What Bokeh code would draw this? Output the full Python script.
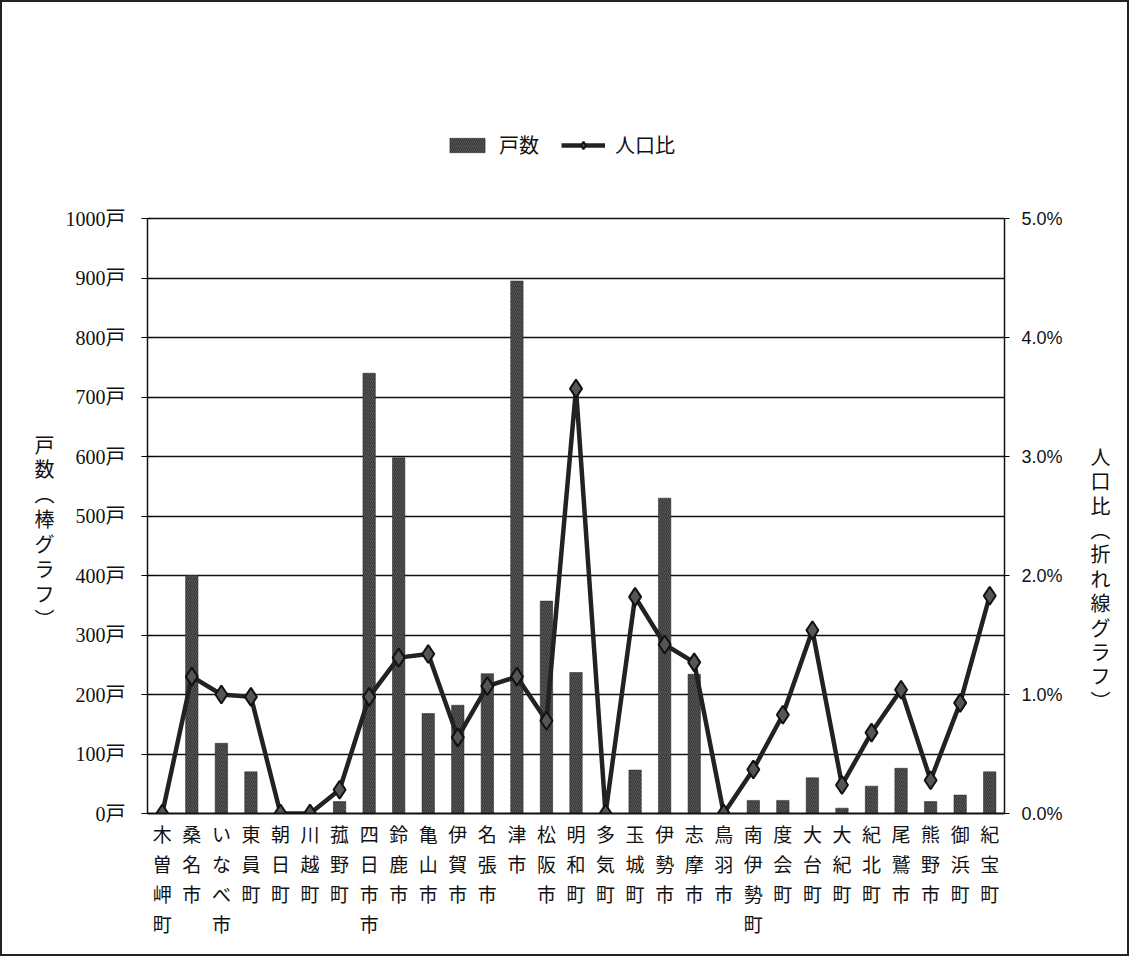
from bokeh.plotting import figure
from bokeh.models import (Range1d, LinearAxis, FixedTicker, PrintfTickFormatter,
                          Legend, LegendItem, ColumnDataSource)
from bokeh.embed import file_html
from bokeh.resources import INLINE

# ---- data ----
towns = ["木曽岬町", "桑名市", "いなべ市", "東員町", "朝日町", "川越町", "菰野町",
         "四日市市", "鈴鹿市", "亀山市", "伊賀市", "名張市", "津市", "松阪市",
         "明和町", "多気町", "玉城町", "伊勢市", "志摩市", "鳥羽市", "南伊勢町",
         "度会町", "大台町", "大紀町", "紀北町", "尾鷲市", "熊野市", "御浜町", "紀宝町"]
households = [0, 400, 118, 70, 0, 0, 20, 740, 598, 168, 182, 235, 895, 357,
              237, 0, 73, 530, 234, 0, 22, 22, 60, 9, 46, 76, 20, 31, 70]
pop_ratio = [0.0, 1.15, 1.0, 0.98, 0.0, 0.0, 0.2, 0.98, 1.31, 1.34, 0.64, 1.07,
             1.15, 0.78, 3.57, 0.0, 1.82, 1.42, 1.27, 0.0, 0.37, 0.83, 1.54,
             0.24, 0.68, 1.04, 0.28, 0.93, 1.83]
left_ticks = [0, 100, 200, 300, 400, 500, 600, 700, 800, 900, 1000]
right_ticks = [0, 1, 2, 3, 4, 5]
left_title = "戸数︵棒グラフ︶"
right_title = "人口比︵折れ線グラフ︶"
bar_name = "戸数"
line_name = "人口比"

factors = ["\n".join(t) for t in towns]
src = ColumnDataSource(dict(x=factors, h=households, r=pop_ratio))

JP = "'Noto Sans CJK JP'"
SERIF = "'Liberation Serif', 'Noto Sans CJK JP'"
SANS = "'Liberation Sans', Arial"

# frame extends above the 1000 line to hold the legend
p = figure(width=1129, height=956, x_range=factors, y_range=Range1d(0, 1200),
           output_backend="svg", toolbar_location=None,
           min_border_left=145, min_border_right=127, min_border_top=97,
           min_border_bottom=145)
p.styles = {"border": "2px solid #222"}
p.extra_y_ranges = {"pct": Range1d(0, 6)}
p.x_range.range_padding = 0
p.outline_line_color = None

# grid
p.xgrid.grid_line_color = None
p.ygrid.grid_line_color = "#111"
p.ygrid.grid_line_width = 1.5
p.ygrid.ticker = FixedTicker(ticks=left_ticks)


def blank_axis(axis):
    axis.ticker = FixedTicker(ticks=[])
    axis.axis_line_color = None
    axis.major_tick_line_color = None
    axis.minor_tick_line_color = None
    axis.major_label_text_font_size = "0px"
    axis.axis_label_orientation = "horizontal"
    axis.axis_label_text_font = JP
    axis.axis_label_text_font_size = "20px"
    axis.axis_label_text_font_style = "normal"
    axis.axis_label_text_color = "#111"


# left axis (ticks)
ya = p.yaxis[0]
ya.ticker = FixedTicker(ticks=left_ticks)
ya.bounds = (0, 1000)
ya.formatter = PrintfTickFormatter(format="%d戸")
ya.major_label_text_font = SERIF
ya.major_label_text_font_size = "20px"
ya.major_label_text_color = "#111"
ya.major_tick_in = 6
ya.major_tick_out = 6
ya.minor_tick_line_color = None
ya.axis_line_color = "#111"
ya.axis_line_width = 1.5
ya.major_label_standoff = 16

# left title holder (leading blank lines push the stacked title down)
lt = LinearAxis()
blank_axis(lt)
lt.axis_label = "\n" * 6 + "\n".join(left_title)
lt.axis_label_text_line_height = 0.86
lt.axis_label_standoff = 8
p.add_layout(lt, "left")

# right axis (ticks)
ra = LinearAxis(y_range_name="pct", ticker=FixedTicker(ticks=right_ticks),
                formatter=PrintfTickFormatter(format="%.1f%%"), bounds=(0, 5))
ra.major_label_text_font = SANS
ra.major_label_text_font_size = "18px"
ra.major_label_text_color = "#111"
ra.major_tick_in = 0
ra.major_tick_out = 5
ra.minor_tick_line_color = None
ra.axis_line_color = "#111"
ra.axis_line_width = 1.5
ra.major_label_standoff = 12
p.add_layout(ra, "right")

# right title holder
rt = LinearAxis(y_range_name="pct")
blank_axis(rt)
rt.axis_label = "\n" * 10 + "\n".join(right_title)
rt.axis_label_text_line_height = 0.84
rt.axis_label_standoff = 25
p.add_layout(rt, "right")

# x axis
xa = p.xaxis[0]
xa.major_label_text_font = JP
xa.major_label_text_font_size = "19px"
xa.major_label_text_color = "#111"
xa.major_label_text_line_height = 1.12
xa.major_tick_line_color = None
xa.major_label_standoff = 0
xa.axis_line_color = "#111"
xa.axis_line_width = 2

# bars
bars = p.vbar(x="x", top="h", width=0.42, source=src, fill_color="#383838",
              line_color="#2a2a2a", line_width=0.5, hatch_pattern="/",
              hatch_color="#7a7a7a", hatch_scale=4, hatch_weight=0.6,
              hatch_alpha=0.8)

# line
ln = p.line(x="x", y="r", source=src, y_range_name="pct", line_color="#222",
            line_width=4.5)
mk = p.scatter(x="x", y="r", source=src, y_range_name="pct", marker="diamond",
               size=18, fill_color="#555", line_color="#111", line_width=2)

legend = Legend(items=[LegendItem(label=bar_name, renderers=[bars]),
                       LegendItem(label=line_name, renderers=[ln, mk])],
                orientation="horizontal", location=(298, 654),
                label_text_font=JP, label_text_font_size="20px",
                label_text_color="#111", glyph_width=44, glyph_height=18,
                label_standoff=10, spacing=22, border_line_color=None,
                background_fill_alpha=0, padding=10)
p.add_layout(legend)

open("out.html", "w").write(file_html(p, INLINE))
